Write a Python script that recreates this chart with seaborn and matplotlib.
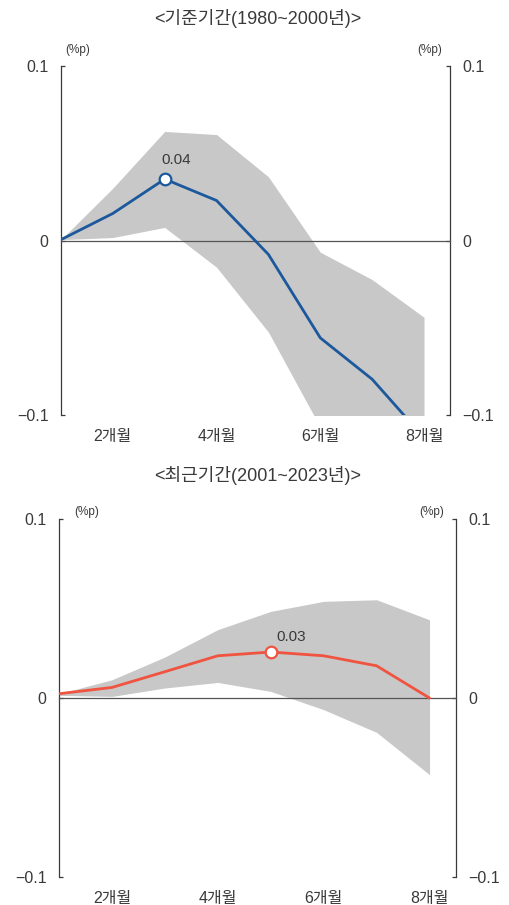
import numpy as np
import pandas as pd
import seaborn as sns
import matplotlib.pyplot as plt

# months on the x axis (first point = month 1)
months = [1, 2, 3, 4, 5, 6, 7, 8]
month_labels = ["2개월", "4개월", "6개월", "8개월"]
label_months = [2, 4, 6, 8]
tick_months = [3, 5, 7]

# 기준기간 (1980~2000)
base_mid = [0.0005, 0.0155, 0.0352, 0.0229, -0.0080, -0.0558, -0.0795, -0.1130]
base_hi = [0.0005, 0.0300, 0.0625, 0.0607, 0.0365, -0.0067, -0.0224, -0.0440]
base_lo = [0.0005, 0.0017, 0.0075, -0.0153, -0.0525, -0.1070, -0.1300, -0.1500]

# 최근기간 (2001~2023)
recent_mid = [0.0024, 0.0059, 0.0147, 0.0236, 0.0257, 0.0236, 0.0180, 0.0000]
recent_hi = [0.0024, 0.0102, 0.0229, 0.0382, 0.0484, 0.0540, 0.0549, 0.0437]
recent_lo = [0.0015, 0.0009, 0.0056, 0.0087, 0.0037, -0.0065, -0.0192, -0.0428]

sns.set_style("white")
plt.rcParams['font.family'] = ['Liberation Sans', 'Noto Sans CJK KR', 'DejaVu Sans']
plt.rcParams['axes.unicode_minus'] = True

TXT = "#3a3a3a"
BAND = "#c8c8c8"
BLUE = "#1c589c"
RED = "#f0533f"

fig = plt.figure(figsize=(5.09, 9.05), dpi=100)
ax1 = fig.add_axes([0.1198, 0.5414, 0.7642, 0.3857])
ax2 = fig.add_axes([0.1159, 0.0309, 0.7800, 0.3956])


def draw_panel(ax, mid, hi, lo, color, label_offset):
    df = pd.DataFrame({"month": months, "mid": mid, "hi": hi, "lo": lo})
    ax.fill_between(df["month"], df["lo"], df["hi"], color=BAND, lw=0, zorder=1)
    sns.lineplot(data=df, x="month", y="mid", ax=ax, color=color, lw=2.0, zorder=3)

    # peak marker + label
    k = int(np.argmax(mid))
    sns.scatterplot(x=[months[k]], y=[mid[k]], ax=ax, s=70, color="white",
                    edgecolor=color, linewidth=1.6, zorder=4)
    ax.annotate(f"{mid[k]:.2f}", (months[k], mid[k]), xytext=label_offset,
                textcoords="offset points", ha="center", va="center",
                fontsize=11, color=TXT)

    ax.set_xlim(1, 8.5)
    ax.set_ylim(-0.1, 0.1)
    ax.set_yticks([-0.1, 0, 0.1])
    ax.set_yticklabels(["\u22120.1", "0", "0.1"])
    ax.set_xlabel("")
    ax.set_ylabel("")

    for s in ["left", "right", "bottom"]:
        ax.spines[s].set_color(TXT)
        ax.spines[s].set_linewidth(0.9)
    ax.spines["top"].set_visible(False)
    ax.spines["bottom"].set_position(("data", 0))
    ax.spines["bottom"].set_color("#555555")

    ax.tick_params(axis="y", which="both", left=True, right=True,
                   labelleft=True, labelright=True, direction="in",
                   length=3, width=0.9, color=TXT, pad=9,
                   labelsize=11.5, labelcolor=TXT)
    ax.set_xticks(tick_months)
    ax.tick_params(axis="x", direction="in", length=3, width=0.9,
                   color="#555555", labelbottom=False)

    sec = ax.secondary_xaxis(0.0)
    sec.set_xticks(label_months)
    sec.set_xticklabels(month_labels)
    sec.tick_params(length=0, pad=10, labelsize=11.5, labelcolor=TXT)
    sec.spines["bottom"].set_visible(False)


draw_panel(ax1, base_mid, base_hi, base_lo, BLUE, (8, 14))
draw_panel(ax2, recent_mid, recent_hi, recent_lo, RED, (15, 10.5))

# titles
fig.text(0.507, 0.980, "<기준기간(1980~2000년)>", ha="center", va="center",
         fontsize=13, color=TXT)
fig.text(0.507, 0.475, "<최근기간(2001~2023년)>", ha="center", va="center",
         fontsize=13, color=TXT)

# unit labels
for x, y in [(0.153, 0.9448), (0.844, 0.9448), (0.171, 0.4343), (0.849, 0.4343)]:
    fig.text(x, y, "(%p)", ha="center", va="center", fontsize=8.5, color=TXT)

plt.savefig("out.png", dpi=100)
